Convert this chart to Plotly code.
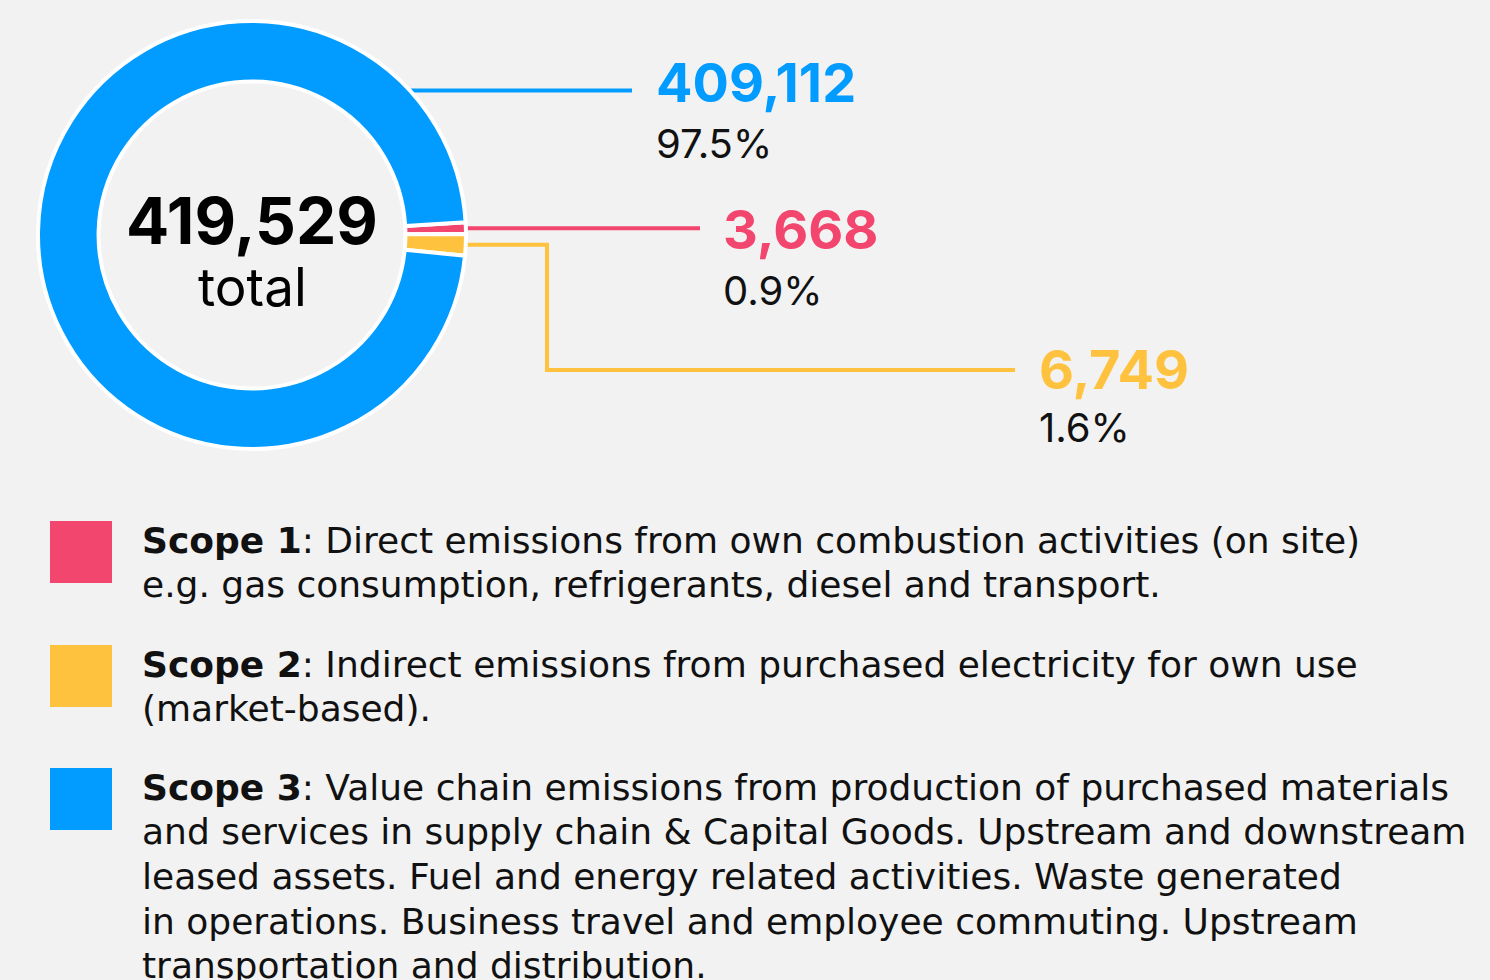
import math
import plotly.graph_objects as go

# ---------------- data ----------------
labels = ["Scope 1", "Scope 2", "Scope 3"]
values = [3668, 6749, 409112]
colors = ["#F2466F", "#FFC23E", "#029BFF"]
descriptions = [
    [": Direct emissions from own combustion activities (on site)",
     "e.g. gas consumption, refrigerants, diesel and transport."],
    [": Indirect emissions from purchased electricity for own use",
     "(market-based)."],
    [": Value chain emissions from production of purchased materials",
     "and services in supply chain & Capital Goods. Upstream and downstream",
     "leased assets. Fuel and energy related activities. Waste generated",
     "in operations. Business travel and employee commuting. Upstream",
     "transportation and distribution."],
]
total = sum(values)

# ---------------- layout constants ----------------
W, H = 1490, 980
BG = "#F2F2F2"
NUM_FONT = "Inter"
TXT_FONT = "DejaVu Sans"
CX, CY, R = 252, 235, 214
HOLE = 0.717
ROT = 86.6
LINE_W = 4

fig = go.Figure()

fig.add_trace(go.Pie(
    labels=labels, values=values, sort=False, direction="clockwise",
    rotation=ROT, hole=HOLE, textinfo="none", hoverinfo="label+value+percent",
    marker=dict(colors=colors, line=dict(color="white", width=LINE_W)),
    domain=dict(x=[(CX - R) / W, (CX + R) / W], y=[(H - CY - R) / H, (H - CY + R) / H]),
    showlegend=False,
))

# slice mid angles (clockwise from 12 o'clock)
mids = []
cum = 0
for v in values:
    mids.append(ROT + 360 * (cum + v / 2) / total)
    cum += v

Ro = R - LINE_W / 2


def edge_point(theta):
    t = math.radians(theta)
    return CX + Ro * math.sin(t), CY - Ro * math.cos(t)


blue_theta = 47.0
anchors = [
    dict(theta=mids[0], path=None, end=700, lx=721, vy=229, py=290),
    dict(theta=mids[1], path=(547, 370), end=1015, lx=1037, vy=369, py=427),
    dict(theta=blue_theta, path=None, end=632, lx=654, vy=82, py=143),
]

annotations = []
for i, a in enumerate(anchors):
    x0, y0 = edge_point(a["theta"])
    if a["path"] is None:
        xs, ys = [x0, a["end"]], [y0, y0]
    else:
        ex, ey = a["path"]
        xs, ys = [x0, ex, ex, a["end"]], [y0, y0, ey, ey]
    fig.add_trace(go.Scatter(x=xs, y=ys, mode="lines", line=dict(color=colors[i], width=LINE_W),
                             hoverinfo="skip", showlegend=False))
    pct = 100 * values[i] / total
    annotations.append(dict(x=a["lx"], y=a["vy"], xref="x", yref="y", xanchor="left", yanchor="middle",
                            text=f"<b>{values[i]:,}</b>", showarrow=False,
                            font=dict(family=NUM_FONT, size=54, color=colors[i])))
    annotations.append(dict(x=a["lx"], y=a["py"], xref="x", yref="y", xanchor="left", yanchor="middle",
                            text=f"{pct:.1f}%", showarrow=False,
                            font=dict(family=NUM_FONT, size=40, color="#111111")))

# centre text
annotations.append(dict(x=CX, y=220, xref="x", yref="y", xanchor="center", yanchor="middle",
                        text=f"<b>{total:,}</b>", showarrow=False,
                        font=dict(family=NUM_FONT, size=64, color="#000000")))
annotations.append(dict(x=CX, y=287, xref="x", yref="y", xanchor="center", yanchor="middle",
                        text="total", showarrow=False,
                        font=dict(family=NUM_FONT, size=53, color="#000000")))

# legend
shapes = []
leg_tops = [521, 645, 768]
LINE_GAP = 44.7
for i, top in enumerate(leg_tops):
    shapes.append(dict(type="rect", xref="x", yref="y", x0=50, x1=112, y0=top, y1=top + 62,
                       fillcolor=colors[i], line=dict(width=0)))
    for j, line in enumerate(descriptions[i]):
        txt = (f"<b>{labels[i]}</b>" + line) if j == 0 else line
        annotations.append(dict(x=140, y=top + 19 + j * LINE_GAP, xref="x", yref="y",
                                xanchor="left", yanchor="middle", text=txt, showarrow=False,
                                font=dict(family=TXT_FONT, size=36, color="#111111")))

fig.update_layout(
    width=W, height=H, margin=dict(l=0, r=0, t=0, b=0),
    paper_bgcolor=BG, plot_bgcolor=BG,
    xaxis=dict(range=[0, W], domain=[0, 1], visible=False, fixedrange=True),
    yaxis=dict(range=[H, 0], domain=[0, 1], visible=False, fixedrange=True),
    annotations=annotations, shapes=shapes,
)

fig.write_html("out.html", config={"displayModeBar": False},
               post_script="document.body.style.margin='0';")
